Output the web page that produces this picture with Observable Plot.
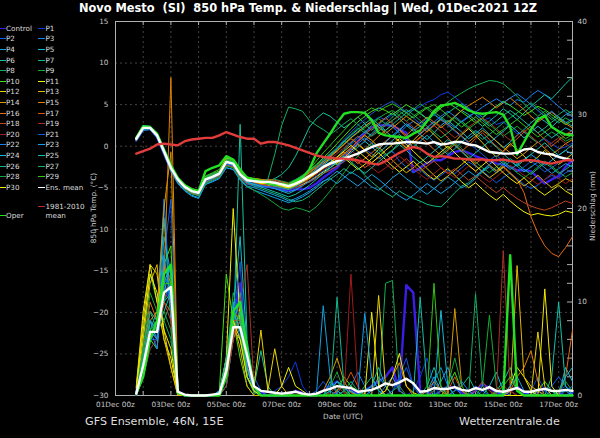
<!DOCTYPE html>
<html>
<head>
<meta charset="utf-8">
<script src="https://cdn.jsdelivr.net/npm/d3@7"></script>
<script src="https://cdn.jsdelivr.net/npm/@observablehq/plot@0.6"></script>
<style>
  html, body { margin: 0; padding: 0; background: #000; }
  #wrap { position: relative; width: 600px; height: 438px; background: #000; overflow: hidden; font-family: "DejaVu Sans", sans-serif; }
  #chart { position: absolute; left: 0; top: 0; }
  .title { position: absolute; left: 8px; top: 1px; width: 600px; text-align: center; color: #fff; font-weight: bold; font-size: 11.4px; line-height: 15px; white-space: pre; }
  .foot { position: absolute; top: 415px; color: #ddd; font-size: 11.2px; line-height: 14px; white-space: pre; }
  .axt { position: absolute; color: #ccc; font-size: 7.3px; line-height: 9px; white-space: pre; transform: translate(-50%, -50%); }
  .axt.rot { transform: translate(-50%, -50%) rotate(-90deg); }
  .lg { position: absolute; color: #ddd; font-size: 7.2px; line-height: 9px; white-space: pre; }
  .sw { position: absolute; height: 1px; }
</style>
</head>
<body>
<div id="wrap">
  <div id="chart"></div>
  <div class="title">Novo Mesto  (SI)  850 hPa Temp. &amp; Niederschlag | Wed, 01Dec2021 12Z</div>
  <div class="axt rot" style="left:93px;top:208px">850 hPa Temp. (°C)</div>
  <div class="axt rot" style="left:592px;top:206px">Niederschlag (mm)</div>
  <div class="axt" style="left:343px;top:416px">Date (UTC)</div>
  <div class="foot" style="left:85px">GFS Ensemble, 46N, 15E</div>
  <div class="foot" style="left:459px">Wetterzentrale.de</div>
  <div id="legend"></div>
</div>
<script>
// Ensemble run 01 Dec 2021 12Z, 6-hourly steps from +6 h to +384 h
const runStart = Date.UTC(2021, 11, 1, 12);
const leadHours = d3.range(6, 385, 6);

// 850 hPa temperature (°C) per member
const tempControl = [0.7,2.0,2.1,1.1,-0.9,-2.9,-4.3,-5.1,-5.6,-5.8,-4.3,-3.9,-3.5,-2.2,-2.4,-3.8,-4.5,-4.7,-4.8,-4.9,-5.0,-5.2,-5.3,-5.2,-5.2,-5.0,-4.5,-3.8,-3.2,-2.6,-1.5,-0.5,0.6,1.6,2.3,2.5,2.5,2.5,2.0,1.6,-3.1,-2.6,-2.0,-1.7,-1.7,-1.2,-0.7,-0.5,-0.8,-1.2,-1.5,-1.8,-2.1,-2.2,-2.5,-2.9,-2.9,-3.0,-3.8,-4.5,-4.0,-3.6,-2.5,-1.7];
const tempP1 = [0.8,2.1,2.3,1.4,-0.5,-2.5,-3.9,-4.8,-5.5,-5.7,-4.2,-3.8,-3.4,-2.0,-2.0,-3.3,-4.0,-4.3,-4.5,-4.4,-4.3,-4.5,-4.7,-4.4,-3.9,-3.2,-2.6,-1.9,-1.2,-0.6,0.3,1.1,1.8,2.4,2.9,3.5,3.2,3.8,4.4,4.1,4.3,4.8,5.3,5.6,6.2,6.5,5.9,5.2,4.6,4.0,3.1,3.4,2.6,2.9,2.2,1.5,1.8,1.0,0.4,0.9,0.3,-0.3,-0.1,0.4];
const tempP2 = [0.9,2.3,2.1,1.2,-0.8,-2.8,-4.2,-5.0,-5.3,-5.5,-3.9,-3.8,-3.5,-2.1,-2.3,-3.6,-4.3,-4.5,-4.6,-4.5,-4.7,-4.9,-5.0,-4.8,-4.6,-4.3,-3.9,-3.3,-2.8,-2.4,-1.9,-1.2,-0.8,-0.4,-0.9,-1.5,-1.0,-0.6,-1.8,-2.5,-3.2,-2.8,-3.6,-4.1,-3.5,-2.9,-3.3,-2.6,-1.9,-2.4,-3.0,-3.7,-4.4,-3.8,-3.2,-3.9,-4.6,-5.1,-4.7,-4.0,-3.5,-3.9,-3.2,-2.8];
const tempP3 = [1.1,2.5,2.4,1.5,-0.3,-2.4,-3.8,-4.7,-5.2,-5.4,-3.7,-3.3,-3.0,-1.5,-1.8,-3.1,-3.9,-4.0,-4.1,-4.0,-4.2,-4.3,-4.5,-4.1,-3.6,-3.0,-2.4,-1.6,-1.0,-0.3,0.6,0.2,1.0,1.7,1.3,2.1,2.8,2.3,1.6,2.4,3.0,2.5,1.9,2.6,3.3,2.8,2.2,3.0,3.6,4.1,3.5,4.2,4.8,5.3,4.9,5.6,5.3,6.1,6.7,6.2,5.5,4.8,4.1,3.5];
const tempP4 = [0.6,1.9,2.0,1.0,-1.0,-3.0,-4.5,-5.4,-6.0,-6.3,-4.6,-4.2,-3.8,-2.6,-2.8,-4.0,-4.8,-5.0,-5.3,-5.6,-5.9,-6.2,-6.6,-6.3,-5.9,-5.4,-4.8,-4.2,-3.9,-4.5,-3.8,-3.1,-3.6,-4.2,-4.9,-5.3,-4.6,-3.8,-3.2,-3.9,-4.5,-5.2,-5.8,-5.1,-4.4,-3.7,-4.3,-5.0,-4.6,-3.9,-3.1,-2.5,-3.2,-2.6,-1.8,-2.4,-3.1,-2.5,-1.9,-2.6,-3.3,-2.7,-2.1,-2.5];
const tempP5 = [0.9,2.2,2.2,1.3,-0.6,-2.6,-4.0,-5.0,-5.5,-5.6,-4.1,-3.6,-3.1,-1.7,-2.0,-3.3,-4.2,-4.5,-4.7,-4.9,-5.1,-5.4,-5.7,-5.3,-4.7,-3.9,-3.2,-2.4,-1.9,-1.3,-0.4,0.4,1.2,0.7,1.5,2.3,1.8,1.1,1.9,2.7,2.1,1.4,0.8,1.6,2.5,3.1,2.4,1.7,0.9,1.5,2.2,1.4,0.6,-0.2,0.5,1.3,2.0,2.8,3.5,3.0,2.3,3.1,3.8,4.2];
const tempP6 = [0.8,2.1,2.1,1.2,-0.7,-2.7,-4.1,-5.0,-5.6,-5.9,-4.4,-3.9,-3.5,-2.0,-2.2,-3.6,-4.4,-4.6,-4.5,-4.2,-3.9,-3.4,-2.6,-1.2,0.5,2.3,3.3,4.0,3.6,2.9,2.2,2.8,3.5,2.7,1.9,2.6,3.4,4.0,3.3,2.5,1.8,2.4,3.1,3.8,3.2,2.6,3.5,4.3,3.8,3.1,2.4,3.0,3.7,4.5,3.9,3.2,4.0,4.8,5.5,6.2,5.7,6.6,7.5,8.3];
const tempP7 = [1.0,2.3,2.2,1.2,-0.7,-2.8,-4.2,-5.1,-5.6,-5.8,-4.3,-4.0,-3.6,-2.3,-2.5,-3.7,-4.5,-4.8,-5.1,-5.4,-5.7,-6.0,-6.4,-6.7,-6.5,-6.0,-5.3,-4.6,-4.0,-3.4,-2.7,-3.3,-2.6,-3.5,-4.3,-5.0,-5.6,-6.1,-5.4,-5.9,-6.3,-6.6,-7.0,-7.2,-7.3,-6.5,-5.6,-4.8,-4.4,-3.7,-3.0,-2.3,-2.9,-2.2,-1.5,-2.1,-2.8,-3.4,-2.7,-2.0,-2.6,-3.3,-2.8,-2.2];
const tempP8 = [0.9,2.2,2.3,1.4,-0.5,-2.5,-3.9,-4.8,-5.3,-5.5,-3.9,-3.5,-3.1,-1.8,-2.0,-3.3,-4.0,-4.1,-4.2,-4.1,-4.0,-4.2,-4.4,-4.0,-3.5,-3.0,-2.3,-1.6,-0.9,-0.2,0.6,1.4,2.2,1.6,2.5,3.3,2.7,3.5,4.2,3.6,4.4,5.1,4.5,3.8,4.6,5.3,5.9,6.4,6.9,7.3,7.6,7.9,7.8,7.5,6.8,6.0,5.1,4.3,3.6,4.2,3.5,2.8,3.4,2.9];
const tempP9 = [1.0,2.3,2.2,1.3,-0.6,-2.7,-4.1,-4.9,-5.4,-5.5,-3.8,-3.4,-3.0,-1.6,-1.9,-3.2,-4.0,-4.1,-4.2,-4.3,-4.5,-4.6,-4.7,-4.3,-3.8,-3.2,-2.5,-1.8,-1.1,-0.5,0.3,1.0,1.6,2.2,2.8,3.4,3.9,4.3,3.7,3.0,3.6,4.2,4.7,4.1,3.5,2.9,3.4,2.8,2.1,2.7,3.3,2.6,1.9,1.2,1.8,2.4,1.7,1.0,0.4,1.1,1.7,1.2,0.6,1.0];
const tempP10 = [1.1,2.4,2.3,1.4,-0.5,-2.4,-3.8,-4.6,-5.1,-5.3,-3.6,-3.2,-2.8,-1.4,-1.7,-3.0,-3.7,-3.9,-4.0,-4.1,-4.3,-4.5,-4.6,-4.2,-3.6,-2.9,-2.2,-1.4,-0.6,0.3,1.2,2.1,2.9,3.6,4.2,4.6,4.3,3.8,4.4,5.0,4.5,3.9,3.3,3.9,4.6,5.2,4.7,4.1,3.5,2.8,3.4,4.1,4.8,5.4,4.9,4.3,3.7,4.2,4.8,4.4,3.8,3.2,2.6,3.1];
const tempP11 = [0.7,2.0,2.1,1.1,-0.8,-2.9,-4.3,-5.2,-5.7,-5.9,-4.3,-3.9,-3.4,-2.0,-2.3,-3.7,-4.4,-4.4,-4.5,-4.6,-4.8,-5.0,-5.1,-4.9,-4.6,-4.2,-3.7,-3.1,-2.6,-2.0,-1.4,-2.1,-2.8,-2.2,-1.5,-0.8,-1.6,-2.4,-3.1,-2.5,-1.8,-2.6,-3.4,-4.0,-3.3,-2.7,-3.5,-4.3,-5.0,-4.4,-5.2,-5.9,-6.5,-5.8,-6.6,-7.3,-7.9,-8.3,-8.1,-8.3,-8.4,-8.2,-7.8,-8.0];
const tempP12 = [0.9,2.2,2.1,1.2,-0.6,-2.6,-4.1,-5.0,-5.6,-5.8,-4.2,-3.7,-3.2,-1.8,-2.1,-3.5,-4.2,-4.4,-4.6,-4.7,-4.8,-4.9,-5.0,-4.6,-4.1,-3.5,-2.8,-2.1,-1.5,-2.2,-1.4,-0.6,0.2,-0.5,-1.3,-0.4,0.5,1.3,0.6,-0.2,0.7,1.5,2.2,1.4,0.6,-0.3,0.5,1.4,2.1,1.3,0.4,-0.5,-1.3,-0.6,0.3,-0.4,-1.2,-2.0,-1.3,-0.5,-1.4,-2.2,-1.6,-0.9];
const tempP13 = [0.8,2.1,2.2,1.3,-0.6,-2.5,-3.9,-4.8,-5.3,-5.5,-4.0,-3.5,-3.0,-1.4,-1.6,-3.0,-3.8,-3.9,-4.0,-4.2,-4.4,-4.7,-5.0,-4.8,-4.4,-3.9,-3.3,-2.7,-2.2,-1.6,-0.9,-0.2,0.6,1.3,0.7,-0.1,-0.9,-1.7,-2.5,-3.2,-2.6,-1.9,-2.7,-3.5,-4.2,-3.6,-2.9,-2.2,-1.5,-2.3,-3.1,-3.8,-3.2,-2.5,-3.3,-4.1,-4.8,-4.2,-3.5,-4.3,-5.0,-4.5,-3.9,-4.3];
const tempP14 = [0.9,2.3,2.3,1.4,-0.4,-2.4,-3.8,-4.7,-5.3,-5.6,-4.1,-3.7,-3.2,-1.8,-2.0,-3.3,-4.0,-4.2,-4.4,-4.4,-4.4,-4.6,-4.7,-4.4,-4.0,-3.4,-2.8,-2.0,-1.3,-0.6,0.2,1.0,1.7,2.4,3.0,2.3,1.5,2.2,2.9,3.6,3.0,2.4,1.7,2.5,3.2,2.6,1.9,1.2,0.5,1.2,1.9,1.3,0.6,-0.1,-0.8,-1.5,-0.9,-0.2,0.5,-0.3,-1.0,-0.4,0.3,0.8];
const tempP15 = [1.0,2.4,2.2,1.3,-0.6,-2.6,-4.0,-4.9,-5.4,-5.6,-4.0,-3.6,-3.2,-1.8,-2.0,-3.4,-4.1,-4.3,-4.4,-4.5,-4.6,-4.6,-4.7,-4.3,-3.8,-3.2,-2.6,-1.9,-1.2,-0.5,0.2,0.9,0.3,-0.4,0.4,1.2,1.9,2.6,2.0,1.3,2.1,2.8,3.5,2.9,2.2,2.9,3.6,4.3,4.9,5.4,5.9,5.3,4.6,5.2,5.8,5.1,4.4,3.6,2.9,3.5,4.1,3.4,2.7,2.2];
const tempP16 = [0.8,2.1,2.2,1.3,-0.6,-2.6,-4.0,-4.9,-5.5,-5.7,-4.1,-3.8,-3.4,-2.0,-2.2,-3.5,-4.3,-4.5,-4.6,-4.6,-4.7,-4.8,-4.9,-4.6,-4.2,-3.7,-3.2,-2.6,-2.0,-1.4,-0.7,-1.4,-2.1,-1.5,-0.8,-0.1,0.6,1.2,0.5,-0.3,0.4,1.1,0.4,-0.4,-1.1,-0.5,0.2,-0.6,-1.4,-2.1,-1.5,-2.3,-3.0,-2.4,-3.2,-4.0,-5.6,-8.5,-10.5,-12.0,-12.9,-13.3,-12.2,-10.9];
const tempP17 = [0.9,2.2,2.1,1.2,-0.7,-2.7,-4.1,-5.0,-5.4,-5.6,-4.0,-3.7,-3.3,-2.0,-2.2,-3.5,-4.2,-4.2,-4.1,-4.0,-4.1,-4.3,-4.5,-4.2,-3.7,-3.1,-2.5,-1.8,-1.1,-1.8,-1.0,-0.2,0.6,1.4,2.1,2.8,3.4,2.7,1.9,1.1,0.3,1.0,1.8,2.5,1.8,1.0,0.2,-0.6,0.1,0.9,1.6,0.8,0.0,-0.7,0.1,0.9,1.7,2.4,1.6,0.8,0.0,0.7,1.4,1.9];
const tempP18 = [0.7,2.0,2.0,1.1,-0.9,-2.9,-4.3,-5.2,-5.7,-5.9,-4.4,-4.0,-3.6,-2.3,-2.5,-3.8,-4.5,-4.6,-4.7,-4.8,-5.0,-5.1,-5.2,-5.0,-4.7,-4.3,-3.8,-3.3,-2.9,-2.4,-1.8,-1.2,-1.9,-2.6,-2.0,-1.3,-2.1,-2.8,-2.2,-1.5,-2.3,-3.0,-2.4,-1.8,-2.6,-3.3,-2.7,-3.4,-4.1,-3.6,-4.3,-5.0,-5.6,-5.0,-5.7,-6.3,-6.8,-7.2,-7.5,-7.7,-7.4,-7.0,-6.6,-6.9];
const tempP19 = [1.0,2.3,2.3,1.4,-0.5,-2.5,-3.9,-4.8,-5.3,-5.5,-3.9,-3.5,-3.1,-1.7,-1.9,-3.2,-3.9,-4.0,-4.1,-4.2,-4.3,-4.4,-4.6,-4.3,-3.9,-3.4,-2.8,-2.2,-1.6,-0.9,-0.2,0.5,1.2,0.6,1.3,2.0,2.6,3.1,3.6,3.0,2.3,1.6,2.3,3.0,2.4,1.7,1.0,1.6,2.3,2.9,3.4,2.8,2.1,1.4,0.7,1.3,1.9,1.2,0.5,-0.2,0.4,1.0,0.3,-0.3];
const tempP20 = [0.8,2.1,2.1,1.2,-0.7,-2.7,-4.1,-5.0,-5.5,-5.7,-4.2,-3.8,-3.4,-2.0,-2.2,-3.5,-4.3,-4.4,-4.5,-4.6,-4.8,-5.0,-5.2,-4.9,-4.5,-4.0,-3.4,-2.8,-2.3,-1.7,-1.1,-0.5,-1.2,-1.9,-2.6,-3.2,-2.6,-1.9,-1.2,-1.9,-2.7,-3.4,-4.0,-3.3,-2.6,-3.2,-3.8,-3.1,-2.4,-3.0,-3.7,-4.3,-3.7,-3.0,-2.3,-2.9,-3.5,-4.0,-4.6,-4.0,-3.3,-3.9,-4.5,-3.9];
const tempP21 = [0.9,2.2,2.2,1.3,-0.6,-2.6,-4.0,-4.9,-5.4,-5.6,-4.0,-3.6,-3.2,-1.9,-2.1,-3.4,-4.2,-4.5,-4.7,-4.9,-5.0,-5.1,-5.2,-4.9,-4.4,-3.7,-2.9,-2.0,-1.1,-0.2,0.8,1.7,2.5,3.2,3.9,4.5,5.0,5.4,4.8,4.1,3.4,2.7,3.3,3.9,3.2,2.5,1.8,1.1,0.4,-0.3,-1.0,-1.7,-1.1,-1.8,-2.5,-3.1,-2.5,-1.8,-2.4,-3.1,-2.6,-2.0,-1.4,-1.9];
const tempP22 = [1.0,2.3,2.2,1.3,-0.6,-2.6,-4.0,-4.9,-5.5,-5.8,-4.3,-3.9,-3.4,-2.1,-2.3,-3.6,-4.4,-4.6,-4.8,-4.9,-5.1,-5.3,-5.5,-5.2,-4.8,-4.2,-3.6,-3.0,-2.4,-1.8,-1.1,-0.4,0.3,1.0,0.4,-0.3,0.5,1.3,2.0,2.7,2.1,1.4,2.2,2.9,3.6,4.2,3.6,2.9,3.5,4.1,4.7,5.2,5.7,5.2,5.8,6.3,5.7,5.0,4.3,3.6,4.2,3.5,2.8,3.3];
const tempP23 = [0.7,2.0,2.0,1.1,-0.9,-2.9,-4.4,-5.3,-5.9,-6.2,-4.6,-4.3,-3.9,-2.6,-2.8,-4.1,-4.9,-5.3,-5.6,-5.9,-6.2,-6.5,-6.8,-6.5,-6.1,-5.6,-5.0,-4.3,-3.7,-3.0,-3.6,-4.2,-4.8,-4.1,-3.4,-4.0,-4.7,-5.4,-6.0,-6.5,-5.9,-5.2,-4.5,-5.1,-5.7,-5.1,-4.4,-3.7,-3.0,-3.6,-2.9,-2.2,-1.5,-2.1,-2.8,-2.2,-1.6,-1.0,-1.6,-2.3,-1.7,-1.1,-0.5,-1.0];
const tempP24 = [0.9,2.2,2.3,1.4,-0.5,-2.5,-3.9,-4.8,-5.3,-5.5,-3.9,-3.6,-3.2,-1.8,-2.0,-3.3,-4.1,-4.3,-4.4,-4.4,-4.5,-4.7,-4.9,-4.6,-4.1,-3.6,-3.0,-2.3,-1.6,-2.3,-1.6,-0.8,-0.1,0.6,-0.1,-0.8,-0.1,0.7,1.4,0.7,-0.1,0.6,1.3,0.5,-0.3,-1.0,-0.3,0.5,1.2,1.9,1.2,0.4,1.1,1.8,2.5,1.8,1.0,1.7,2.4,1.7,1.0,1.6,2.2,1.8];
const tempP25 = [0.8,2.1,2.2,1.2,-0.7,-2.7,-4.1,-5.0,-5.5,-5.7,-4.1,-3.8,-3.3,-2.0,-2.2,-3.5,-4.3,-4.6,-4.9,-5.2,-5.5,-5.8,-6.1,-5.8,-5.3,-4.7,-4.0,-3.3,-2.6,-1.9,-1.2,-1.9,-2.6,-3.3,-2.6,-1.9,-1.2,-0.5,0.2,-0.5,-1.3,-2.0,-1.3,-0.6,0.1,0.8,0.1,-0.7,-1.5,-0.8,-0.1,0.6,-0.1,-0.9,-1.7,-2.4,-1.7,-1.0,-0.3,0.4,-0.4,-1.1,-0.5,0.2];
const tempP26 = [1.0,2.3,2.3,1.4,-0.5,-2.5,-3.9,-4.8,-5.3,-5.5,-3.9,-3.5,-3.1,-1.7,-1.9,-3.2,-4.0,-4.2,-4.4,-4.6,-4.8,-5.0,-5.2,-4.8,-4.2,-3.5,-2.7,-1.9,-1.1,-0.3,0.5,1.3,2.0,2.7,3.3,2.6,1.9,2.6,3.3,4.0,4.6,4.0,3.3,2.6,3.3,4.0,4.6,5.1,4.5,3.8,3.1,2.4,3.0,3.7,4.3,3.7,3.0,2.3,1.6,2.2,2.9,3.5,2.9,2.4];
const tempP27 = [0.9,2.2,2.2,1.3,-0.6,-2.6,-4.0,-4.9,-5.4,-5.6,-4.0,-3.7,-3.3,-1.9,-2.1,-3.4,-4.1,-4.2,-4.3,-4.0,-1.0,2.5,4.7,4.5,4.2,3.1,2.5,2.0,1.4,2.0,2.7,3.3,2.6,1.9,1.2,1.8,2.5,3.1,3.8,4.4,3.8,3.1,2.4,1.7,1.0,1.6,2.3,3.0,2.3,1.5,0.8,1.4,2.1,2.8,3.4,4.0,4.6,5.2,4.6,3.9,3.2,3.8,4.4,3.9];
const tempP28 = [0.8,2.1,2.1,1.2,-0.7,-2.7,-4.2,-5.1,-5.7,-6.0,-4.5,-4.1,-3.7,-2.4,-2.6,-3.9,-4.8,-5.3,-5.8,-6.3,-6.9,-7.5,-7.7,-7.4,-7.6,-7.9,-7.3,-6.4,-5.4,-4.3,-3.2,-2.1,-1.2,-0.4,0.3,-0.4,-1.1,-0.4,0.4,1.1,0.4,-0.3,-1.0,-1.7,-1.0,-0.3,0.4,-0.3,-1.1,-1.9,-2.6,-3.2,-2.5,-1.8,-2.5,-3.2,-3.8,-3.2,-2.5,-1.8,-2.4,-3.1,-3.7,-3.2];
const tempP29 = [1.0,2.3,2.3,1.4,-0.5,-2.5,-3.9,-4.8,-5.3,-5.5,-3.8,-3.4,-3.0,-1.6,-1.8,-3.1,-3.9,-4.1,-4.3,-4.5,-4.7,-4.8,-4.9,-4.4,-3.7,-2.8,-1.8,-0.8,0.1,1.0,1.9,2.8,3.5,4.1,4.6,4.2,4.7,5.1,4.6,4.0,3.4,4.0,4.6,5.0,4.4,3.7,3.0,2.3,2.9,3.5,2.8,2.1,1.4,2.0,2.6,3.2,2.5,1.8,1.1,1.7,2.3,1.6,0.9,1.4];
const tempP30 = [0.9,2.2,2.2,1.3,-0.6,-2.6,-4.0,-4.9,-5.4,-5.6,-4.0,-3.7,-3.3,-1.9,-2.1,-3.4,-4.1,-4.3,-4.5,-4.5,-4.6,-4.8,-5.0,-4.7,-4.3,-3.8,-3.2,-2.6,-2.0,-1.3,-0.6,0.1,-0.6,-1.3,-2.0,-1.3,-0.5,0.2,0.9,0.2,-0.6,-1.4,-2.1,-1.4,-0.7,0.0,-0.8,-1.6,-2.3,-3.0,-2.3,-1.6,-2.4,-3.2,-3.9,-4.5,-3.8,-4.6,-5.3,-5.9,-5.3,-4.7,-5.4,-5.9];
const tempOper = [1.0,2.4,2.3,1.5,-0.4,-2.3,-3.8,-4.7,-5.2,-5.4,-3.0,-2.6,-2.3,-1.2,-1.6,-2.8,-3.8,-4.0,-4.2,-4.4,-4.6,-4.5,-4.7,-4.2,-3.8,-2.8,-0.9,0.3,1.5,2.8,3.9,4.1,4.1,4.0,3.1,1.6,1.3,1.2,1.1,1.0,1.5,1.9,3.0,4.2,4.9,5.0,5.2,4.8,4.3,4.0,3.9,4.0,4.1,3.8,2.3,-1.0,0.5,2.0,3.2,3.7,2.3,1.8,1.4,1.3];
const tempEnsMean = [0.9,2.2,2.2,1.3,-0.6,-2.6,-4.0,-4.9,-5.4,-5.6,-4.0,-3.7,-3.3,-1.9,-2.1,-3.4,-4.1,-4.2,-4.3,-4.3,-4.4,-4.6,-4.8,-4.5,-4.1,-3.6,-3.1,-2.5,-2.1,-1.8,-1.5,-1.2,-0.9,-0.5,-0.1,0.2,0.3,0.3,0.4,0.5,0.5,0.4,0.3,0.5,0.2,0.3,0.5,0.5,0.2,0.1,-0.3,-0.7,-0.8,-0.9,-0.9,-0.8,-0.4,-0.3,-0.7,-0.9,-1.0,-1.3,-1.5,-1.7];
const tempClimate = [-0.9,-0.6,-0.3,0.2,0.3,0.2,0.1,0.6,0.8,0.9,1.0,1.0,1.3,1.7,1.4,1.1,0.9,0.9,0.3,0.5,0.5,0.3,0.1,-0.2,-0.5,-0.8,-1.1,-1.3,-1.4,-1.5,-1.5,-1.6,-1.7,-1.9,-2.1,-2.2,-1.8,-1.3,-0.8,-0.4,-0.1,-0.3,-0.9,-1.3,-1.2,-1.3,-1.5,-1.5,-1.6,-1.6,-1.6,-1.7,-1.7,-1.6,-1.8,-1.9,-1.7,-1.7,-1.8,-2.0,-2.1,-1.9,-1.7,-1.7];

// 6-hourly precipitation (mm) per member
const rainControl = [0.3,4,8,7,12,10,0.5,0, 0,0,0,0,0.3,3,8,12, 3,0.5,0.3,0,0,0,0,0.5, 0.3,0,0,0.5,1,1.5,0.8,0.5, 0.2,0.5,1,1.5,2,3,0.5,11.8, 11,0.5,0.3,0,0.5,1,0.8,0.3, 0,0.5,1.2,0.8,0.3,0,0.5,1, 0.3,0,0.4,0.8,0.5,0.2,0,0.3];
const rainP1 = [0,2,5,6,10,12,0.5,0, 0,0,0,0,0,1,6,9, 4,1,0,0,0.5,1,2,3.6, 1,0,0,0,0.5,0,0,0, 0,0,0.5,1,0,0,0,0, 0.5,2,4,1,0,0,0,0, 0,0,0.5,1,0.3,0,0,0, 0,0.5,2,0.5,0,0,0,0];
const rainP2 = [0.2,3,6,5,15,21,0.3,0, 0,0,0,0,0,2,7,6, 4,2,0.5,0,0,0,0,0, 0,0,0,0,0,0.3,1,0.5, 0,0,0,0,0,0.5,1.5,3, 1,0,0,0,0,0,0,0, 0.5,1,0.5,0,0,0,0,0, 0,0,0,0.5,1,2,1,0.3];
const rainP3 = [0,4,7,8,21,9,0.3,0, 0,0,0,0,0.5,4,10,6, 2,0.5,0,0,0,0,0,0, 0,0,0,0,0,0,0.5,1, 2.5,1,0,0,0,0,0,0, 0,0,0,1.5,3,1,0,0, 0,0,0,0,0.5,0,0,0, 0,0,0,0,0,0,0.5,1];
const rainP4 = [0.3,3,8,6,17,13,0.5,0, 0,0,0,0,0.3,3,7,11, 3,0.5,0,0,0,0,0,0, 0,0,0,9.6,2,0,0,0, 0,0,0.5,2,1,0,0,0, 0,0,0,0.5,1.5,3,1,0, 0,0,0,0,0,0,0.5,0, 0,0,0,0,0,0.3,0.5,0];
const rainP5 = [0.2,3,6,7,19,8,0.3,0, 0,0,0,0,0,4,9,17, 5,1,0,0,0,0,0,0, 0,0,0,0,1.5,0.5,0,0.5, 0,0,0,0,0,0,0,0, 0,0,0.5,2,0.5,0,0,0, 0,0,0,1,2.5,0.5,0,0, 0,0,0,0,0,0,3,1.5];
const rainP6 = [0,2,7,9,11,14,0.2,0, 0,0,0,0,0,1,6,29, 6,1,4.8,1,0,0,0,0, 0,0,0,0,0,0,0,0, 0,0,0,0,0,0,0,0, 0,10.5,1,0,0,0,0,0, 0,0,0,0,0.5,1.5,3,0.5, 0,0,0,0,0.5,0,0,0];
const rainP7 = [0.5,5,9,7,8,10,0.3,0, 0,0,0,0,0.3,2,8,7, 2,0.5,0,0,0,0,0,0, 0,0,0,0,0,0,0,0, 0,1,2,0.5,0,0,0,0, 0,0,0,0,0,0,0.5,1, 2,0.5,0,0,0,0,0,0, 0,0,0,0,0,0,0,0];
const rainP8 = [0.3,6,13,10,8,6,0.2,0, 0,0,0,0,0,3,11,8, 2,0.3,0,0,0,0,0,0, 0,0,0,0,0,0,0,0, 0,0,0,0,12,12.3,0.5,0, 0,0,0,0,0,0,0,0, 0,0,0,0,0,0,0,0, 0,0,0,0,0,0,0,0];
const rainP9 = [0,3,7,8,10,13,0.3,0, 0,0,0,0,0,2,9,8, 2,0.5,0,0,0,0,0,0, 0,0,0,0,0.5,1.5,0.5,0, 0,0,0,0,0,0.5,1,0, 0,0,0,0,0,0,0,0, 0,0,1,8.6,1,0,0,0, 0,0,0,0,0,0,0,0];
const rainP10 = [0,2,6,5,14,16,0.5,0, 0,0,0,0,0.5,13,8,4, 1,0,0,0,0,0,0,0, 0,0,0,0,0,0.5,2,1, 0.5,0,0,0,0,0,0,0, 0,0,0,0,0,1,2.5,0.5, 0,0,0,0,0,0,0,0, 0,0,0.5,1.5,0.5,0,0,0];
const rainP11 = [1,9,14,10,6,4,0.2,0, 0,0,0,0,0.3,4,20,8, 2,0.5,0,0,0,1,3,1, 0.5,0,0,0,0,0,0,0, 0,0,8.9,1,0,0,0,0, 0,0,0,0,0,0,0,0, 0,0,0,0,0,0,1,3, 2,0.5,0,0,0,0,0,0];
const rainP12 = [0.8,8,14,13,7,3,0,0, 0,0,0,0,0,2,7,6, 3,1,7,0.5,5,1,0,0.5, 0,0,0,0,0,0,0,0, 0,0,0,10.7,1,0,0,0, 0,0,0,0,0,0,0,0, 0,0,0,0,0,0,0,0, 0,0,6.8,1,0,0,0,0];
const rainP13 = [0.5,6,12,14,6,3,0,0, 0,0,0,0,0,3,8,5, 1,0,0,0,0,0,0,0, 0,0,0,0,0,0,0,0, 0,0,0,0,0,0,0,0, 0,0,0,0,0,0,0,0, 0,0,0,0,0,0,0,13.9, 2,1,0.5,0,0,0,0,0];
const rainP14 = [0.3,4,8,9,20,26,0.5,0, 0,0,0,0,0,3,9,7, 2,0.5,0,0,0,0,0,0, 0,0,0,0.5,2,4,1.5,0.3, 0,0,0,0,0,0,0,0, 0,0,0,0,0,0,9.3,1, 0,0,0,0,0,0,0,0, 0,0,0,0,0,0,0,0];
const rainP15 = [0.2,3,6,8,12,34,0.5,0, 0,0,0,0,0,2,6,8, 3,0.5,0,0,0,0,0,0, 0,0,0,0,0,0,0,0, 0,0,0,0,0.5,2,3.5,1, 0,0,0,0,0,0,0,0, 0,0,0,0,0,0,0.5,2, 3,4.8,1.5,0,0,0,0,0];
const rainP16 = [0.4,5,10,8,14,12,0.3,0, 0,0,0,0,0,2,7,9, 3,0.5,0,0,0,0,0,0, 0,0,0,0,0,0,0,0, 0,0,0,0,0,0,0,0, 0,0,0.5,1.5,0.5,0,0,0, 0,0,0,0,0,0,0,0, 0,0,0,0,0,0,2,7];
const rainP17 = [0.2,3,7,6,10,9,0.2,0, 0,0,0,0,0,3,8,8, 4,1,0,0,0,0,0,0, 0,0,0,0,0,0.5,1,2.5, 1,0,0,0,0,0,0,0, 0,0,0,0,0,0.5,2,0.5, 0,0,0,0,0,0,0,0, 0,0,0,0,0,0,0,0];
const rainP18 = [0.3,4,9,8,10,8,0.3,0, 0,0,0,0,0,2,7,9, 3,0.5,0,0,0,0,0,0, 0,0,0,0,0,0,0,0, 0,0,0,0,0.5,2,0.5,0, 0,0,0,0,0,0,0,0, 0,0.5,1.5,0.5,0,0,0,0, 0,0,0,0,0,0,0,0];
const rainP19 = [0,2,5,6,11,10,0.3,0, 0,0,0,0,0,1,6,10, 14,1,0,0,0,0,0,0, 0,0,0,0,0.3,1,0.3,0, 0,0,0,0,0,0,0,0, 0,0,0,0.5,1,0,0,0, 0,0,0,0,0,15.5,0.5,0, 0,0,0,0,0,0,0,0];
const rainP20 = [0.2,3,7,6,11,12,0.4,0, 0,0,0,0,0,2,7,8, 3,0.5,0,0,0,0,0,0, 0,0,0,0,0,0,0,13, 1,0,0,0,0,0,0,0, 0,0,0,0,0,0,0,0, 0,0,0,0,0.5,1,0.5,0, 0,0,0,0,0,0,0,0];
const rainP21 = [0,2,6,6,13,11,0.3,0, 0,0,0,0,0,3,8,14.3, 2,0.5,0,0,0,0,0,0, 0,0,0.5,1.5,0.5,0,0,0, 0,0,0,0,0,0.5,2,4, 1,0,0,0,0,0,0,0, 0,0,0,0,0,0,0,0, 0,0,0,0,0,0.5,1,0.3];
const rainP22 = [0.3,4,7,5,12,13,0.3,0, 0,0,0,0,0.5,3,7,8, 2,0.5,0,0,0,0,0,0, 0,0,0,0,0,0,0,0, 0,0,0,0,1,2,0.5,0, 0,0,0,0,0,0,0.5,1.5, 0.5,0,0,0,0,0,0,0, 0,0,0,0,0,0,0,0];
const rainP23 = [0.2,3,7,6,15,10,0.3,0, 0,0,0,0,0,3,8,10, 3,0.5,0,0,0,0,0,0, 0,0,0,0,0,0,0,0, 0,8.8,2,0.5,0,0,0,0, 0,0,0,0,0,0,0,0, 0,0,0,0,0,0,1,2, 0.5,0,0,0,0,0,0,0];
const rainP24 = [0,3,6,7,12,14,0.3,0, 0,0,0,0,0,2,8,7, 3,0.5,0,0,0,0,0,0, 0,0,0,0,0.5,1.5,1,0, 0,0,0,0,0,0,0,0, 0,0,0,0,9.1,1,0,0, 0,0,0,0,0,0,0,0, 0,0,0,0,0,0.5,2,3];
const rainP25 = [0.3,4,8,7,9,11,0.3,0, 0,0,0,0,0,3,7,9, 2,0.5,0,0,0,0,0,0, 0,0,0,0,0,0,0,0, 0,0.5,1,3,1,0,0,0, 0,0,0,0,0,0,0,0, 0,0,0,0,0,0,0,0, 0,0,0,0,2,10,1,0];
const rainP26 = [0.4,5,9,8,10,11,0.2,0, 0,0,0,0,0.3,4,9,7, 2,0.5,0,0,0,0,0,0, 0,0,0,0,0,10.5,1,0, 0,0,0,0,0,0,0,0, 0,0,1,3,1,0,0,0, 0,0,0,0,0,0,0,0, 0,0,0,0,0,0,0,0];
const rainP27 = [0.3,4,8,7,11,12,0.3,0, 0,0,0,0,0,3,9,8, 2,0.5,0,0,0,0,0,0, 0,0,0,0,0,0,0.5,1.5, 0.5,0,0,0,0,0,0,0, 0,0,0,0,0,0,0,0, 0,10.9,1,0,0,0,0,0, 0,0,0,0,0,0,0,0];
const rainP28 = [0.5,5,11,9,9,7,0.2,0, 0,0,0,0,0,2,8,7, 2,0.5,0,0,0,0,0,0, 0,0,0,0,1,2.5,0.5,0, 0,0,0,0,0,0,0,0, 0,0,0,0,0.5,1,4,1, 0,0,0,0,0,0,0,0, 0,0,0,0,0,0.5,1.5,0.5];
const rainP29 = [0.2,3,7,7,12,12,0.3,0, 0,0,0,0,0,3,9,8, 2,0.5,0,0,0,0,0,0, 0,0,0,0,0,0,0,0, 0,0,0,0,0,0,0,0, 0,0,0,12,1,0,0,0, 0,0,0,0,0.3,1,2,0.5, 0,0,0,0,0,0,0,0];
const rainP30 = [0.8,7,13,11,7,5,0.2,0, 0,0,0,0,0,3,8,6, 2,0.5,0,0,0,0,0,0, 0,0,0,0,0,0,0,0, 0,0,0,0,0.5,2,4.5,1, 0.3,0,0,0,0,0,0,0, 0,0,0,0,0,0,0,0, 0,0,0,11.4,1,0,0,0];
const rainOper = [0.2,2,6,8,13,14,0.3,0, 0,0,0,0,0,2,9,10, 5,1,0,0,0,0,0,0, 0,0,0,0,0,0,0,0, 0,0,0,0,0,0,0,0, 0,0,0,0,0,0,0,0, 0,0,0,0,0,0,15,0.5, 0,0,0,0,0,0,0,0];
const rainEnsMean = [0.2,3.2,6.8,6.8,11.0,11.6,0.4,0.1, 0,0,0,0.1,0.2,2.6,7.3,7.3, 4.3,1.0,0.5,0.4,0.3,0.2,0.3,0.4, 0.2,0.1,0.2,0.5,0.7,1.0,0.9,0.8, 0.4,0.5,0.6,0.9,1.3,1.1,1.4,1.8, 1.3,0.4,0.5,0.8,0.7,0.7,0.9,0.6, 0.5,0.8,0.6,0.9,0.5,0.4,0.6,0.8, 0.4,0.4,0.6,0.7,0.5,0.5,0.6,0.5];

// Member names and colours
const memberNames = ["P1","P2","P3","P4","P5","P6","P7","P8","P9","P10","P11","P12","P13","P14","P15","P16","P17","P18","P19","P20","P21","P22","P23","P24","P25","P26","P27","P28","P29","P30"];
const memberColors = ["#0c3ce0","#0e5ef0","#1080f0","#12a2e0","#14bad2","#12c2a2","#12b882","#12b052","#14ac30","#44e010","#f2f200","#e8d200","#e0b800","#d89a00","#e08200","#e86a10","#e05208","#c04420","#a83222","#a01a1a","#1258e0","#1a82f0","#12a2ea","#12bad2","#12c2aa","#12b892","#12b062","#14a83a","#34c412","#f2ea00"];
const memberTemps = [tempP1,tempP2,tempP3,tempP4,tempP5,tempP6,tempP7,tempP8,tempP9,tempP10,tempP11,tempP12,tempP13,tempP14,tempP15,tempP16,tempP17,tempP18,tempP19,tempP20,tempP21,tempP22,tempP23,tempP24,tempP25,tempP26,tempP27,tempP28,tempP29,tempP30];
const memberRain = [rainP1,rainP2,rainP3,rainP4,rainP5,rainP6,rainP7,rainP8,rainP9,rainP10,rainP11,rainP12,rainP13,rainP14,rainP15,rainP16,rainP17,rainP18,rainP19,rainP20,rainP21,rainP22,rainP23,rainP24,rainP25,rainP26,rainP27,rainP28,rainP29,rainP30];

const controlColor = "#3a1ee8";
const operColor = "#24e024";
const meanColor = "#ffffff";
const climateColor = "#e23c3c";

// Axis ticks
const tempTicks = [-30,-25,-20,-15,-10,-5,0,5,10,15];
const rainTicks = [0,10,20,30,40];
const rainMinorTicks = d3.range(0, 41, 2);

const times = leadHours.map(h => new Date(runStart + h * 3600e3));
const rainToTemp = d3.scaleLinear([0, 40], [-30, 15]);
const rows = values => values.map((v, i) => ({time: times[i], value: v}));
const rainRows = values => values.map((v, i) => ({time: times[i], value: rainToTemp(v)}));

const dayTicks = d3.utcDay.range(new Date(Date.UTC(2021, 11, 1)), new Date(Date.UTC(2021, 11, 17, 13)));
const labelTicks = dayTicks.filter((d, i) => i % 2 === 0);

const lineOpts = (color, w) => ({x: "time", y: "value", stroke: color, strokeWidth: w, strokeLinejoin: "round"});

const seriesMarks = [];
seriesMarks.push(Plot.line(rows(tempControl), lineOpts(controlColor, 2.4)));
seriesMarks.push(Plot.line(rainRows(rainControl), lineOpts(controlColor, 2.4)));
memberTemps.forEach((t, k) => {
  seriesMarks.push(Plot.line(rows(t), lineOpts(memberColors[k], 1)));
  seriesMarks.push(Plot.line(rainRows(memberRain[k]), lineOpts(memberColors[k], 1)));
});
seriesMarks.push(Plot.line(rows(tempOper), lineOpts(operColor, 2.4)));
seriesMarks.push(Plot.line(rainRows(rainOper), lineOpts(operColor, 2.4)));
seriesMarks.push(Plot.line(rows(tempEnsMean), lineOpts(meanColor, 2.4)));
seriesMarks.push(Plot.line(rainRows(rainEnsMean), lineOpts(meanColor, 2.4)));
seriesMarks.push(Plot.line(rows(tempClimate), lineOpts(climateColor, 2.4)));

const gridStyle = {stroke: "#444", strokeOpacity: 1, strokeWidth: 1, strokeDasharray: "2,3"};

const chart = Plot.plot({
  width: 600,
  height: 438,
  marginLeft: 115,
  marginRight: 28,
  marginTop: 21,
  marginBottom: 43,
  style: {background: "transparent", color: "#c8c8c8", fontFamily: "DejaVu Sans", fontSize: "7.3px"},
  x: {type: "utc", domain: [new Date(Date.UTC(2021, 11, 1)), new Date(Date.UTC(2021, 11, 17, 12))]},
  y: {domain: [-30, 15]},
  marks: [
    Plot.gridX(dayTicks, gridStyle),
    Plot.gridY(tempTicks, gridStyle),
    Plot.frame({stroke: "#b0b0b0"}),
    Plot.tickX(dayTicks, {stroke: "#b0b0b0", insetTop: 370}),
    Plot.tickX(dayTicks, {stroke: "#b0b0b0", insetBottom: 370}),
    Plot.tickY(rainMinorTicks.map(v => rainToTemp(v)), {stroke: "#b0b0b0", insetLeft: 452}),
    Plot.axisX(labelTicks, {anchor: "bottom", tickSize: 0, tickPadding: 6, tickFormat: d3.utcFormat("%d%b %Hz"), label: null}),
    Plot.axisY(tempTicks, {anchor: "left", tickSize: 0, tickPadding: 7, label: null}),
    Plot.axisY(rainTicks.map(v => rainToTemp(v)), {anchor: "right", tickSize: 0, tickPadding: 5, tickFormat: d => String(Math.round(rainToTemp.invert(d))), label: null}),
    ...seriesMarks
  ]
});
document.getElementById("chart").appendChild(chart);

// Legend: two columns of swatches and names
const legend = document.getElementById("legend");
function legendItem(x, y, color, text, swW) {
  const sw = document.createElement("div");
  sw.className = "sw";
  sw.style.left = x + "px";
  sw.style.top = (y - 0.5) + "px";
  sw.style.width = swW + "px";
  sw.style.background = color;
  legend.appendChild(sw);
  const t = document.createElement("div");
  t.className = "lg";
  t.style.left = (x + swW + 0.5) + "px";
  t.style.top = (y - 4.6) + "px";
  t.textContent = text;
  legend.appendChild(t);
}
const rowY = k => 28.3 + 10.6 * k;
const leftCol = [["Control", controlColor]];
const rightCol = [];
memberNames.forEach((n, k) => (k % 2 === 0 ? rightCol : leftCol).push([n, memberColors[k]]));
leftCol.forEach(([n, c], k) => legendItem(0, rowY(k), c, n, 5.5));
rightCol.forEach(([n, c], k) => legendItem(37.5, rowY(k), c, n, 7.5));
legendItem(37.5, rowY(15), meanColor, "Ens. mean", 7.5);
legendItem(0, 215.7, operColor, "Oper", 5.5);
legendItem(37.5, 206.4, "#c02828", "1981-2010\nmean", 7.5);
</script>
</body>
</html>
